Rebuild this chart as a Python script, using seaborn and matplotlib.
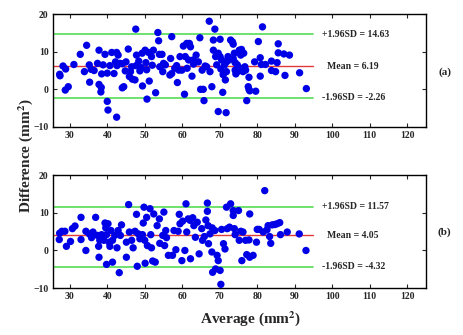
import numpy as np
import pandas as pd
import matplotlib
matplotlib.use("Agg")
import matplotlib.pyplot as plt
import seaborn as sns

# ---------------- DATA ----------------

avg_a = [27.3, 27.4, 28.2, 28.9, 28.8, 29.6, 31.1, 32.8, 33.9, 34.5, 35.2, 35.3, 35.7, 36.5,
         37.4, 37.8, 37.8, 38.4, 38.5, 38.3, 38.9, 39.4, 40.0, 40.2, 40.0, 40.7, 41.2, 41.8,
         42.2, 42.5, 42.9, 42.5, 42.6, 43.4, 44.0, 44.4, 44.8, 45.0, 45.6, 45.9, 46.2, 46.7,
         47.4, 47.6, 47.7, 47.8, 48.4, 48.7, 49.3, 49.4, 50.1, 50.3, 50.5, 50.6, 51.0, 51.2,
         51.8, 52.3, 52.9, 53.5, 53.7, 53.9, 54.0, 54.6, 54.8, 55.5, 56.7, 56.9, 57.2, 57.2,
         58.0, 58.7, 59.1, 59.4, 59.9, 60.3, 60.6, 60.8, 61.2, 61.3, 61.9, 61.7, 62.2, 62.6,
         62.9, 63.7, 64.3, 64.7, 64.9, 65.3, 65.6, 65.8, 66.1, 67.2, 67.4, 67.9, 68.3, 68.3,
         68.7, 68.9, 69.2, 69.6, 70.1, 70.1, 70.3, 70.8, 70.9, 71.5, 71.7, 69.6, 70.5, 71.3,
         71.8, 72.2, 72.5, 71.0, 71.8, 72.9, 73.4, 73.6, 73.9, 73.6, 74.1, 74.1, 74.3, 74.7,
         74.7, 75.2, 75.6, 75.8, 76.1, 76.2, 76.4, 76.7, 76.9, 77.2, 77.6, 77.8, 77.8, 78.0,
         79.3, 79.6, 80.3, 80.8, 80.8, 81.4, 81.1, 82.2, 83.8, 83.8, 84.9, 85.3, 85.6, 85.6,
         87.1, 87.4, 88.6, 91.3, 93.1, 44.0, 46.5, 49.0, 52.0, 55.0, 58.5, 63.0, 66.5]
diff_a = [4.0, 3.6, 6.2, 5.4, -0.2, 0.7, 6.6, 9.3, 4.7, 11.7, 6.5, 1.9, 5.3, 5.0,
          6.9, 10.4, 1.3, 0.5, 4.1, -0.7, 6.5, 9.3, -3.2, -5.5, 4.3, 6.3, 9.8, 4.2,
          7.3, 9.8, 9.1, -7.4, 6.3, 6.9, 0.4, 0.7, 4.9, 7.3, 10.7, 3.4, 4.7, 2.7,
          2.5, 16.0, 6.3, 9.1, 7.5, 4.9, 9.6, 0.9, 10.4, 7.1, 5.2, -2.6, 9.8, 2.2,
          8.7, 10.4, -0.9, 15.1, 12.9, 9.3, 6.0, 9.3, 4.7, 6.5, 3.8, 8.2, 14.0, 4.2,
          5.6, 1.8, 5.1, 8.7, 5.1, 11.5, -1.3, 8.7, 12.2, 5.6, 12.2, 7.8, 11.3, 3.5,
          7.8, 9.1, 7.3, 13.7, 0.0, 5.1, 0.0, -3.0, 6.2, 18.1, 4.7, 0.7, 10.4, 13.1,
          16.0, 8.7, 6.5, -5.9, 13.3, 8.7, 5.4, -0.8, 3.9, 2.5, -6.2, 9.6, 7.8, 6.5,
          7.3, 8.7, 7.8, 4.2, 4.7, 13.1, 12.6, 12.0, 9.6, 8.2, 7.1, 5.1, 4.1, 6.5,
          4.7, 10.4, 9.1, 10.6, 5.6, 4.7, 9.6, 6.0, 5.1, -3.0, 0.7, 3.2, 0.0, -0.4,
          7.3, -0.5, 12.7, 8.4, 3.5, 16.6, 6.6, 6.6, 7.5, 5.0, 4.7, 7.1, 12.1, 9.7,
          9.4, 3.7, 9.1, 4.4, 0.2, 6.8, 6.0, 5.8, 6.4, 6.9, 6.3, 6.7, 6.0]

avg_b = [27.2, 27.3, 27.9, 28.7, 29.1, 30.2, 30.7, 31.4, 33.0, 33.0, 34.3, 34.3, 35.2, 35.8,
         36.2, 36.9, 37.4, 37.7, 37.8, 38.0, 38.5, 39.1, 39.4, 39.6, 39.8, 39.8, 40.2, 40.5,
         40.7, 41.0, 41.4, 41.4, 42.0, 42.6, 42.9, 43.2, 43.5, 43.8, 45.1, 45.1, 45.7, 45.9,
         46.5, 46.9, 47.4, 47.8, 48.0, 48.3, 48.7, 49.4, 49.6, 49.8, 50.0, 50.1, 50.5, 50.7,
         51.4, 51.6, 51.8, 52.1, 52.4, 52.8, 53.3, 53.9, 54.0, 54.8, 55.1, 55.3, 55.6, 55.8,
         56.3, 57.4, 57.8, 58.3, 58.9, 59.2, 59.4, 59.9, 60.1, 60.7, 61.0, 61.2, 61.6, 62.1,
         62.2, 62.8, 63.1, 63.5, 64.0, 64.5, 65.2, 65.4, 65.9, 66.3, 66.7, 66.7, 66.9, 67.0,
         67.4, 67.9, 68.0, 68.1, 68.7, 68.9, 69.3, 69.6, 70.1, 70.3, 70.5, 71.0, 71.4, 71.8,
         72.0, 72.6, 72.9, 73.6, 73.6, 73.9, 74.1, 75.0, 75.2, 75.6, 75.9, 76.2, 76.9, 77.2,
         77.8, 78.0, 78.0, 78.9, 79.8, 80.0, 80.5, 81.6, 82.0, 82.6, 82.9, 83.3, 83.6, 84.0,
         84.7, 85.3, 86.0, 86.2, 88.0, 91.2, 93.0]
diff_b = [2.9, 4.6, 5.1, 5.1, 1.1, 2.4, 5.8, 6.5, 8.8, 2.9, 5.1, 0.0, 4.4, 3.4,
          4.9, 8.8, 4.0, 1.1, -1.8, 2.7, 4.2, 2.7, 7.3, 6.0, -3.7, 4.2, 7.1, 2.2,
          1.1, 5.3, -3.1, 2.7, 4.0, 0.7, 5.3, -5.9, 4.0, 6.8, 2.2, -1.8, 12.2, 4.9,
          2.7, 0.7, 5.1, 9.6, -4.2, 4.4, 3.1, 4.2, 7.3, 11.5, 2.7, -3.4, 8.8, 1.3,
          11.1, 4.2, 0.7, -2.8, 9.7, -3.1, 6.6, 8.4, 1.9, 4.0, 10.2, 1.3, 5.3, 3.4,
          -1.3, -1.3, 5.3, 0.2, 5.1, 9.6, 7.1, -2.7, 7.8, 0.0, 12.4, 4.9, 8.4, 8.0,
          -2.2, 8.7, 6.6, 3.5, 7.5, -0.9, 5.8, 2.7, 3.7, 8.1, 12.6, 10.4, 6.6, 1.8,
          4.4, -0.4, 6.0, -5.8, 5.3, -4.9, -1.3, -2.7, -5.3, -9.0, 5.6, 1.8, 0.4, 11.5,
          5.8, 6.2, 12.4, 10.6, 9.3, 5.8, 4.2, 10.6, 2.7, 5.1, -2.7, 4.9, 2.7, -1.1,
          2.8, 9.7, -1.8, -1.3, 2.2, 5.6, 5.6, 4.9, 15.9, 5.5, 6.6, 3.7, 1.9, 6.8,
          6.9, 7.1, 7.4, 4.2, 4.9, 4.4, 0.0]

mean_vals = [6.19, 4.05]
upper_vals = [14.63, 11.57]
lower_vals = [-2.26, -4.32]
panel_tags = ["(a)", "(b)"]

x_ticks = [30, 40, 50, 60, 70, 80, 90, 100, 110, 120]
y_ticks = [-10, 0, 10, 20]

# ---------------- STYLE ----------------

sns.set_style("ticks")
plt.rcParams["font.family"] = ["Liberation Serif", "DejaVu Serif"]
plt.rcParams["font.weight"] = "bold"
plt.rcParams["mathtext.fontset"] = "stix"

fig = plt.figure(figsize=(4.64, 3.35), dpi=100)
ax_a = fig.add_axes([0.114, 0.621, 0.804, 0.337])
ax_b = fig.add_axes([0.114, 0.140, 0.804, 0.337])

panels = [
    (ax_a, pd.DataFrame({"avg": avg_a, "diff": diff_a})),
    (ax_b, pd.DataFrame({"avg": avg_b, "diff": diff_b})),
]

xlim = (25.5, 125)
line_end = 95

for i, (ax, df) in enumerate(panels):
    sns.scatterplot(data=df, x="avg", y="diff", ax=ax, color="#0000e6",
                    s=28, edgecolor="none", linewidth=0, zorder=3)

    ax.plot([xlim[0], line_end], [upper_vals[i]] * 2, color="#55dd55", lw=1.2, zorder=2)
    ax.plot([xlim[0], line_end], [mean_vals[i]] * 2, color="#e03a3a", lw=1.0, zorder=2)
    ax.plot([xlim[0], line_end], [lower_vals[i]] * 2, color="#55dd55", lw=1.2, zorder=2)

    ax.text(97.4, upper_vals[i], "+1.96SD = %.2f" % upper_vals[i],
            fontsize=7, fontweight="bold", va="center", ha="left")
    ax.text(98.6, mean_vals[i], "Mean = %.2f" % mean_vals[i],
            fontsize=7, fontweight="bold", va="center", ha="left")
    ax.text(97.2, lower_vals[i], "-1.96SD = %.2f" % lower_vals[i],
            fontsize=7, fontweight="bold", va="center", ha="left")

    ax.set_xlim(*xlim)
    ax.set_ylim(-10, 20)
    ax.set_xticks(x_ticks)
    ax.set_yticks(y_ticks)
    ax.set_xlabel("")
    ax.set_ylabel("")
    ax.tick_params(direction="in", top=True, right=True, length=3,
                   width=0.8, labelsize=7, pad=3)
    for lab in ax.get_xticklabels() + ax.get_yticklabels():
        lab.set_fontweight("bold")
    for sp in ax.spines.values():
        sp.set_visible(True)
        sp.set_linewidth(1.0)
        sp.set_color("black")

fig.text(0.958, 0.785, panel_tags[0], fontsize=8, fontweight="bold", ha="center", va="center")
fig.text(0.958, 0.307, panel_tags[1], fontsize=8, fontweight="bold", ha="center", va="center")

fig.text(0.054, 0.535, r"Difference (mm$^\mathbf{2}$)", rotation=90,
         fontsize=11, fontweight="bold", ha="center", va="center")
fig.text(0.54, 0.05, r"Average (mm$^\mathbf{2}$)",
         fontsize=11, fontweight="bold", ha="center", va="center")

fig.savefig("out.png", dpi=100)
